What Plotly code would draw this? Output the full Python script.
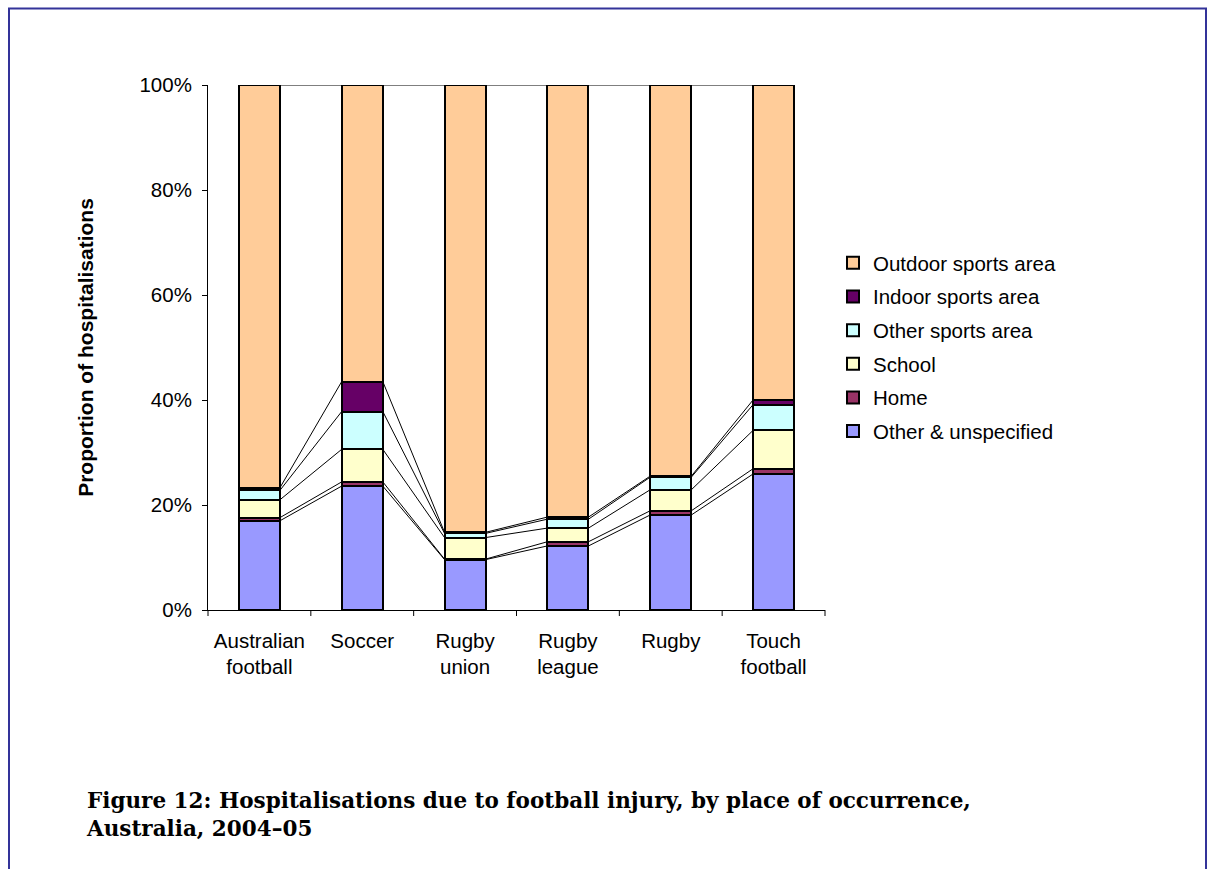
import plotly.graph_objects as go

categories = ["Australian<br>football", "Soccer", "Rugby<br>union", "Rugby<br>league", "Rugby", "Touch<br>football"]

# Values in percent, stacked bottom to top
other_unspecified = [17.0, 23.6, 9.6, 12.2, 18.1, 25.9]
home = [0.6, 0.8, 0.1, 0.8, 0.8, 1.0]
school = [3.4, 6.2, 4.1, 2.6, 4.0, 7.3]
other_sports_area = [1.8, 7.2, 0.8, 1.7, 2.4, 4.9]
indoor_sports_area = [0.5, 5.7, 0.2, 0.4, 0.2, 0.9]
outdoor_sports_area = [76.7, 56.5, 85.2, 82.3, 74.5, 60.0]

series_names = ["Other & unspecified", "Home", "School", "Other sports area",
                "Indoor sports area", "Outdoor sports area"]
series_values = [other_unspecified, home, school, other_sports_area,
                 indoor_sports_area, outdoor_sports_area]
series_colors = ["#9999FF", "#993366", "#FFFFCC", "#CCFFFF", "#660066", "#FFCC99"]

y_ticks = [0, 20, 40, 60, 80, 100]
caption = ("Figure 12: Hospitalisations due to football injury, by place of occurrence,"
           "<br>Australia, 2004\u201305")

bar_width = 0.4
positions = list(range(len(categories)))

fig = go.Figure()
for k, (name, vals, col) in enumerate(zip(series_names, series_values, series_colors)):
    fig.add_trace(go.Bar(
        x=positions, y=vals, name=name, width=bar_width, legendgroup=name,
        legendrank=1000 - k,
        marker=dict(color=col, line=dict(color="black", width=2)),
    ))

# Series lines connecting segment tops between adjacent bars
cum = [0.0] * len(categories)
lx, ly = [], []
for vals in series_values:
    cum = [c + v for c, v in zip(cum, vals)]
    for i in range(len(categories) - 1):
        lx += [positions[i] + bar_width / 2, positions[i + 1] - bar_width / 2, None]
        ly += [cum[i], cum[i + 1], None]
fig.add_trace(go.Scatter(x=lx, y=ly, mode="lines", line=dict(color="black", width=1),
                         showlegend=False, hoverinfo="skip"))

# plot area in pixels
L, R, T, B = 208, 825, 85, 610
W, H = 1209, 869

def px_x(p):
    return (p - L) / (R - L)

def px_y(p):
    return (B - p) / (B - T)

fig.update_layout(
    width=W, height=H,
    margin=dict(l=L, r=W - R, t=T, b=H - B, autoexpand=False),
    barmode="stack",
    paper_bgcolor="white", plot_bgcolor="white",
    font=dict(family="Arial, Liberation Sans, sans-serif", size=20.5, color="black"),
    showlegend=True,
    legend=dict(
        traceorder="grouped", xref="container", yref="container",
        x=833 / W, y=1 - 243 / H, xanchor="left", yanchor="top",
        font=dict(size=20.5, color="black"), bgcolor="rgba(0,0,0,0)",
        tracegroupgap=4,
    ),
    xaxis=dict(
        range=[-0.5, len(categories) - 0.5], automargin=False,
        tickmode="array", tickvals=positions, ticktext=categories,
        ticks="", showline=True, linecolor="black", linewidth=1,
        showgrid=False, zeroline=False, ticklabelstandoff=12,
        tickfont=dict(size=20.5, color="black"),
    ),
    yaxis=dict(
        range=[0, 100], tickmode="array", tickvals=y_ticks, automargin=False,
        ticktext=[f"{v}%" for v in y_ticks],
        ticks="outside", ticklen=5, tickcolor="black", ticklabelstandoff=6,
        showline=True, linecolor="black", linewidth=1,
        showgrid=False, zeroline=False,
        tickfont=dict(size=20.5, color="black"),
        title=dict(text="<b>Proportion of hospitalisations</b>",
                   font=dict(size=21, color="black"), standoff=40),
    ),
)

# boundary ticks on x axis
for k in range(len(categories) + 1):
    xb = k / len(categories)
    fig.add_shape(type="line", xref="paper", yref="paper",
                  x0=xb, x1=xb, y0=0, y1=-6 / (B - T),
                  line=dict(color="black", width=1))

# page border
fig.add_shape(type="rect", xref="paper", yref="paper",
              x0=px_x(9), x1=px_x(1206), y0=px_y(8.5), y1=px_y(900),
              line=dict(color="#333399", width=2), fillcolor="rgba(0,0,0,0)", layer="below")

fig.add_annotation(
    text="<b>" + caption + "</b>", xref="paper", yref="paper",
    x=px_x(84), y=px_y(786), xanchor="left", yanchor="top", align="left",
    showarrow=False,
    font=dict(family="Palatino Linotype, Book Antiqua, DejaVu Serif, serif",
              size=21.5, color="black"),
)

fig.write_html("out.html", config={"displayModeBar": False},
               post_script="document.body.style.margin='0';")
